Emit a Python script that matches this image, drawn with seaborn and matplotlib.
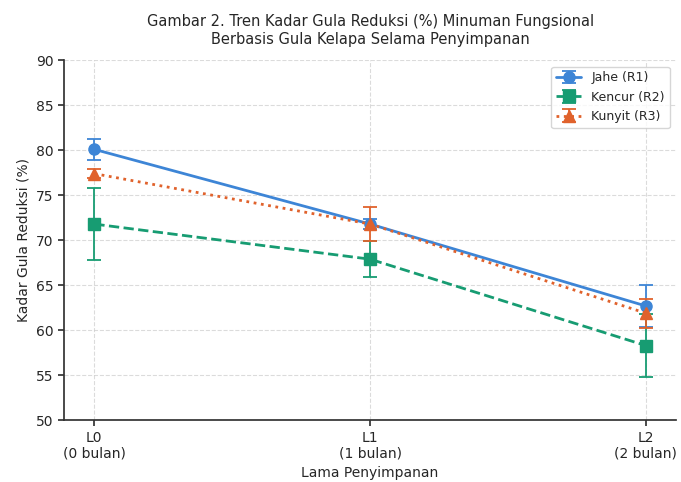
import numpy as np
import pandas as pd
import matplotlib
matplotlib.use("Agg")
import matplotlib.pyplot as plt
import seaborn as sns

# Data (mean +/- SD)
periods = ["L0\n(0 bulan)", "L1\n(1 bulan)", "L2\n(2 bulan)"]
jahe = [80.1, 71.8, 62.7]
jahe_sd = [1.2, 0.6, 2.3]
kencur = [71.8, 67.9, 58.3]
kencur_sd = [4.0, 2.0, 3.5]
kunyit = [77.4, 71.8, 61.9]
kunyit_sd = [0.5, 1.9, 1.6]

sns.set_theme(style="whitegrid")
plt.rcParams['font.family'] = ['DejaVu Sans']

fig, ax = plt.subplots(figsize=(6.81, 4.82), dpi=100)
x = np.arange(len(periods))

series = [
    ("Jahe (R1)", jahe, jahe_sd, "#3d85d6", "o", "-"),
    ("Kencur (R2)", kencur, kencur_sd, "#179c72", "s", "--"),
    ("Kunyit (R3)", kunyit, kunyit_sd, "#e0622c", "^", ":"),
]
for name, vals, sd, color, marker, ls in series:
    ax.errorbar(x, vals, yerr=sd, label=name, color=color, marker=marker,
                linestyle=ls, linewidth=2, markersize=8, capsize=5,
                elinewidth=1.3, capthick=1.3)

ax.set_xticks(x)
ax.set_xticklabels(periods, fontsize=10)
ax.set_ylim(50, 90)
ax.set_yticks(range(50, 91, 5))
ax.tick_params(axis='y', labelsize=10)
ax.set_xlim(-0.11, 2.11)
ax.set_xlabel("Lama Penyimpanan", fontsize=10)
ax.set_ylabel("Kadar Gula Reduksi (%)", fontsize=10)
ax.set_title("Gambar 2. Tren Kadar Gula Reduksi (%) Minuman Fungsional\nBerbasis Gula Kelapa Selama Penyimpanan",
             fontsize=10.5, pad=12)
ax.grid(True, color="#cccccc", linewidth=0.8, linestyle="--", alpha=0.7)
ax.legend(loc="upper right", fontsize=9, frameon=True)
sns.despine(ax=ax)
for s in ["left", "bottom"]:
    ax.spines[s].set_color("#333333")
ax.tick_params(axis='both', which='both', length=4, color="#333333", bottom=True, left=True)

fig.subplots_adjust(left=0.094, right=0.993, top=0.875, bottom=0.128)
fig.savefig("out.png", dpi=100)
